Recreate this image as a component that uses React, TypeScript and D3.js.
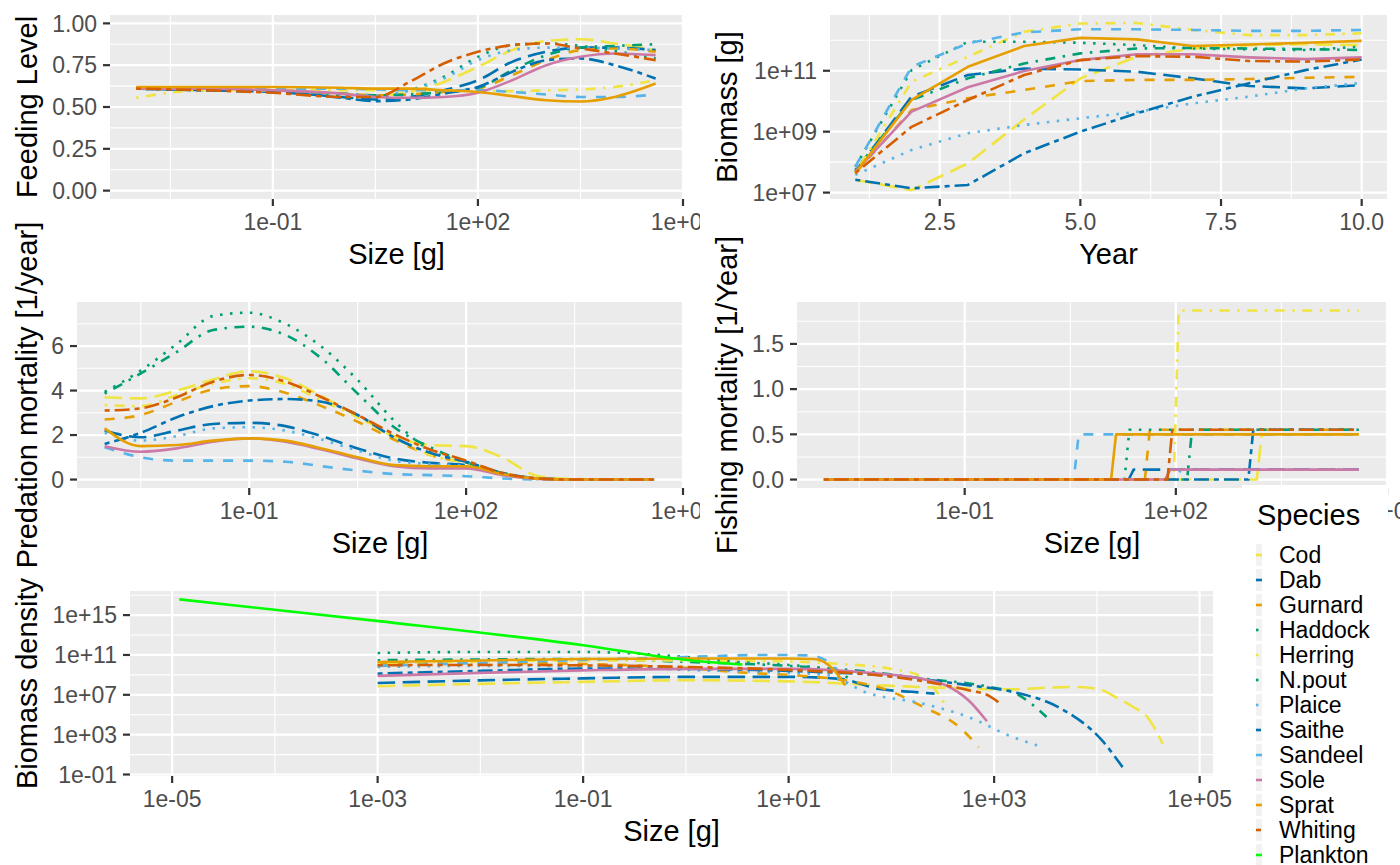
import React from "react";
import * as d3 from "d3";

// ---------------- DATA ----------------
const speciesNames = ["Cod", "Dab", "Gurnard", "Haddock", "Herring", "N.pout", "Plaice", "Saithe", "Sandeel", "Sole", "Sprat", "Whiting"];
const legendNames = [...speciesNames, "Plankton"];

// Feeding level vs log10(size)
const flSizeLog = [-3, -2, -1, 0, 0.5, 1, 1.5, 2, 2.5, 3, 3.5, 4, 4.6];
const feedingLevel: Record<string, number[]> = {
  Cod: [0.61, 0.61, 0.6, 0.58, 0.57, 0.59, 0.65, 0.74, 0.84, 0.895, 0.905, 0.88, 0.84],
  Dab: [0.61, 0.6, 0.59, 0.56, 0.545, 0.56, 0.6, 0.66, 0.77, 0.83, 0.855, 0.855, 0.84],
  Gurnard: [0.61, 0.61, 0.6, 0.58, 0.57, 0.575, 0.59, 0.61, 0.69, 0.78, 0.84, 0.85, 0.83],
  Haddock: [0.61, 0.61, 0.6, 0.58, 0.57, 0.575, 0.59, 0.615, 0.72, 0.81, 0.855, 0.865, 0.875],
  Herring: [0.555, 0.6, 0.6, 0.6, 0.6, 0.6, 0.6, 0.595, 0.595, 0.6, 0.605, 0.62, 0.66],
  "N.pout": [0.61, 0.6, 0.59, 0.57, 0.56, 0.6, 0.68, 0.8, 0.87, 0.88, 0.865, 0.835, 0.79],
  Plaice: [0.61, 0.61, 0.6, 0.58, 0.57, 0.6, 0.67, 0.78, 0.84, 0.855, 0.855, 0.85, 0.84],
  Saithe: [0.61, 0.6, 0.59, 0.555, 0.535, 0.545, 0.58, 0.62, 0.71, 0.78, 0.79, 0.75, 0.67],
  Sandeel: [0.61, 0.61, 0.61, 0.61, 0.605, 0.6, 0.6, 0.6, 0.59, 0.575, 0.56, 0.56, 0.575],
  Sole: [0.61, 0.61, 0.6, 0.58, 0.56, 0.555, 0.56, 0.585, 0.66, 0.75, 0.8, 0.82, 0.81],
  Sprat: [0.62, 0.62, 0.62, 0.615, 0.61, 0.61, 0.6, 0.59, 0.565, 0.54, 0.533, 0.56, 0.64],
  Whiting: [0.61, 0.6, 0.585, 0.56, 0.56, 0.65, 0.76, 0.83, 0.87, 0.88, 0.85, 0.82, 0.78],
};

// Biomass (log10 g) vs year
const years = [1, 2, 3, 4, 5, 6, 7, 8, 9, 10];
const biomassLog10: Record<string, number[]> = {
  Cod: [7.42, 7.08, 7.96, 9.4, 10.75, 11.46, 11.73, 11.84, 11.87, 11.84],
  Dab: [7.69, 10.15, 10.86, 11.07, 11.04, 10.97, 10.75, 10.5, 10.42, 10.53],
  Gurnard: [7.64, 9.71, 10.1, 10.37, 10.66, 10.7, 10.7, 10.73, 10.77, 10.8],
  Haddock: [7.74, 10.04, 10.75, 11.24, 11.57, 11.73, 11.75, 11.73, 11.71, 11.68],
  Herring: [7.64, 10.64, 11.46, 12.28, 12.55, 12.57, 12.34, 12.17, 12.17, 12.23],
  "N.pout": [7.85, 11.02, 11.95, 11.95, 11.92, 11.84, 11.73, 11.7, 11.68, 11.79],
  Plaice: [7.58, 8.4, 8.95, 9.22, 9.44, 9.65, 9.93, 10.15, 10.42, 10.6],
  Saithe: [7.42, 7.14, 7.25, 8.29, 9.0, 9.6, 10.15, 10.59, 11.02, 11.37],
  Sandeel: [7.85, 11.13, 11.9, 12.26, 12.36, 12.36, 12.34, 12.31, 12.31, 12.34],
  Sole: [7.69, 9.66, 10.46, 10.99, 11.35, 11.54, 11.54, 11.44, 11.38, 11.44],
  Sprat: [7.64, 10.04, 11.13, 11.81, 12.08, 12.03, 11.81, 11.86, 11.92, 11.98],
  Whiting: [7.64, 9.16, 10.04, 10.86, 11.35, 11.48, 11.46, 11.32, 11.3, 11.37],
};

// Predation mortality vs log10(size)
const pmSizeLog = [-3, -2.5, -2, -1.5, -1, -0.5, 0, 0.5, 1, 1.5, 2, 2.5, 3, 3.5, 4, 4.6];
const predationMort: Record<string, number[]> = {
  Cod: [3.7, 3.65, 4.0, 4.5, 4.87, 4.55, 3.75, 2.85, 1.95, 1.55, 1.5, 1.0, 0.15, 0.02, 0, 0],
  Dab: [2.2, 1.9, 2.2, 2.5, 2.55, 2.4, 1.95, 1.4, 0.95, 0.75, 0.65, 0.25, 0.04, 0, 0, 0],
  Gurnard: [2.7, 2.9, 3.5, 4.05, 4.2, 3.9, 3.3, 2.6, 1.8, 1.1, 0.75, 0.3, 0.05, 0, 0, 0],
  Haddock: [3.86, 4.77, 5.74, 6.72, 6.87, 6.5, 5.44, 3.86, 2.36, 1.46, 0.78, 0.29, 0.03, 0, 0, 0],
  Herring: [3.35, 3.3, 3.8, 4.3, 4.55, 4.3, 3.55, 2.8, 1.9, 1.1, 0.75, 0.3, 0.05, 0, 0, 0],
  "N.pout": [3.94, 4.9, 6.1, 7.35, 7.5, 7.0, 5.97, 4.47, 2.66, 1.31, 0.78, 0.26, 0.03, 0, 0, 0],
  Plaice: [2.1, 1.75, 1.95, 2.3, 2.35, 2.2, 1.8, 1.3, 0.85, 0.7, 0.6, 0.25, 0.04, 0, 0, 0],
  Saithe: [1.6, 2.1, 2.8, 3.3, 3.55, 3.62, 3.5, 2.9, 1.9, 1.2, 0.8, 0.3, 0.05, 0, 0, 0],
  Sandeel: [1.45, 1.0, 0.85, 0.85, 0.85, 0.8, 0.6, 0.4, 0.25, 0.2, 0.15, 0.05, 0, 0, 0, 0],
  Sole: [1.5, 1.25, 1.4, 1.7, 1.85, 1.7, 1.35, 0.95, 0.6, 0.5, 0.5, 0.2, 0.03, 0, 0, 0],
  Sprat: [2.3, 1.5, 1.55, 1.75, 1.85, 1.75, 1.4, 1.0, 0.65, 0.6, 0.6, 0.25, 0.04, 0, 0, 0],
  Whiting: [3.1, 3.2, 3.7, 4.4, 4.7, 4.4, 3.7, 2.9, 2.05, 1.35, 0.85, 0.3, 0.05, 0, 0, 0],
};

// Fishing mortality: knife-edge size (log10 g) and level (1/year)
const fmSizeRangeLog = [-3, 4.6];
const fmKnifeEdgeLog: Record<string, number> = {
  Cod: 3.15, Dab: 1.33, Gurnard: 1.56, Haddock: 2.16, Herring: 1.97, "N.pout": 1.27,
  Plaice: 2.0, Saithe: 3.03, Sandeel: 0.55, Sole: 1.85, Sprat: 1.08, Whiting: 1.88,
};
const fmLevel: Record<string, number> = {
  Cod: 0.5, Dab: 0.11, Gurnard: 0.55, Haddock: 0.55, Herring: 1.87, "N.pout": 0.55,
  Plaice: 0.11, Saithe: 0.55, Sandeel: 0.5, Sole: 0.11, Sprat: 0.5, Whiting: 0.55,
};

// Biomass density: [log10 size, log10 density]
const biomassDensityLog: Record<string, number[][]> = {
  Cod: [[-3, 7.86], [-2, 8.1], [-1, 8.3], [0, 8.46], [1, 8.35], [2, 7.9], [2.5, 7.7], [3.18, 7.55], [3.6, 7.75], [3.83, 7.79], [4.05, 7.45], [4.18, 6.78], [4.35, 5.8], [4.49, 4.77], [4.64, 2.09]],
  Dab: [[-3, 8.19], [-2, 8.45], [-1, 8.65], [0, 8.8], [1, 8.8], [1.5, 8.6], [1.87, 7.6], [2.2, 7.3], [2.42, 7.12]],
  Gurnard: [[-3, 10.1], [-2, 10.2], [-1, 10.1], [0, 9.7], [0.6, 9.2], [1, 9.0], [1.87, 7.79], [2.31, 5.78], [2.66, 3.77], [2.85, 1.75]],
  Haddock: [[-3, 10.47], [-2, 10.55], [-1, 10.6], [0, 10.3], [1, 9.9], [1.8, 9.3], [2.31, 8.63], [2.96, 7.79], [3.2, 7.2], [3.36, 6.11], [3.51, 4.77]],
  Herring: [[-3, 10.15], [-2, 10.35], [-1, 10.45], [0, 10.45], [1, 10.35], [1.5, 10.1], [2, 9.6], [2.3, 8.8], [2.52, 6.1]],
  "N.pout": [[-3, 11.2], [-2, 11.3], [-1, 11.3], [-0.5, 11.15], [0, 10.8], [0.5, 10.3], [1, 10.0], [1.4, 9.5], [1.6, 8.6]],
  Plaice: [[-3, 9.8], [-2, 9.9], [-1, 9.9], [0, 9.5], [1, 9.2], [1.4, 8.96], [1.74, 7.29], [2.31, 6.11], [2.75, 4.77], [3.18, 2.76], [3.42, 1.92]],
  Saithe: [[-3, 9.13], [-2, 9.4], [-1, 9.63], [0, 9.6], [1, 9.4], [1.5, 9.2], [2, 8.9], [2.75, 7.96], [3.18, 7.29], [3.62, 5.78], [4.05, 2.42], [4.25, -0.26]],
  Sandeel: [[-3, 9.9], [-2, 10.2], [-1, 10.5], [0, 10.8], [0.8, 11.0], [1.2, 10.95], [1.4, 10.2], [1.56, 8.0]],
  Sole: [[-3, 8.9], [-2, 9.2], [-1, 9.45], [0, 9.6], [1, 9.6], [1.87, 9.13], [2.3, 8.6], [2.53, 7.96], [2.75, 6.45], [2.93, 4.34]],
  Sprat: [[-3, 10.3], [-2, 10.45], [-1, 10.6], [0, 10.65], [1, 10.65], [1.25, 10.6], [1.44, 9.5], [1.55, 7.96]],
  Whiting: [[-3, 9.97], [-2, 10.0], [-1, 9.95], [0, 9.8], [1, 9.5], [1.87, 8.96], [2.4, 8.2], [2.75, 7.46], [2.95, 6.9], [3.08, 5.95]],
  Plankton: [[-4.93, 16.58], [-2.99, 14.4], [-1, 11.98], [0.03, 10.47], [0.55, 10.04]],
};

// Tick labels
const sizeTicks = [1e-1, 1e2, 1e5];
const sizeTickLabels = ["1e-01", "1e+02", "1e+05"];
const flTicks = [0, 0.25, 0.5, 0.75, 1];
const flTickLabels = ["0.00", "0.25", "0.50", "0.75", "1.00"];
const bmTicks = [1e7, 1e9, 1e11];
const bmTickLabels = ["1e+07", "1e+09", "1e+11"];
const yearTicks = [2.5, 5, 7.5, 10];
const yearTickLabels = ["2.5", "5.0", "7.5", "10.0"];
const pmTicks = [0, 2, 4, 6];
const pmTickLabels = ["0", "2", "4", "6"];
const fmTicks = [0, 0.5, 1, 1.5];
const fmTickLabels = ["0.0", "0.5", "1.0", "1.5"];
const bdXTicks = [1e-5, 1e-3, 1e-1, 1e1, 1e3, 1e5];
const bdXTickLabels = ["1e-05", "1e-03", "1e-01", "1e+01", "1e+03", "1e+05"];
const bdYTicks = [1e-1, 1e3, 1e7, 1e11, 1e15];
const bdYTickLabels = ["1e-01", "1e+03", "1e+07", "1e+11", "1e+15"];

// ---------------- STYLE ----------------
const speciesColour: Record<string, string> = {
  Cod: "#F0E442", Dab: "#0072B2", Gurnard: "#E69F00", Haddock: "#009E73", Herring: "#F0E442",
  "N.pout": "#009E73", Plaice: "#56B4E9", Saithe: "#0072B2", Sandeel: "#56B4E9", Sole: "#CC79A7",
  Sprat: "#E69F00", Whiting: "#D55E00", Plankton: "#00FF00",
};
const speciesLinetype: Record<string, string> = {
  Cod: "longdash", Dab: "longdash", Gurnard: "dashed", Haddock: "dotdash", Herring: "dotdash",
  "N.pout": "dotted", Plaice: "dotted", Saithe: "twodash", Sandeel: "dashed", Sole: "solid",
  Sprat: "solid", Whiting: "twodash", Plankton: "solid",
};
const dashUnit = 2.5;
const dashPatterns: Record<string, number[] | null> = {
  solid: null, dashed: [4, 4], dotted: [1, 3], dotdash: [1, 3, 4, 3], longdash: [7, 3], twodash: [2, 2, 6, 2],
};
const dashFor = (sp: string) => {
  const p = dashPatterns[speciesLinetype[sp]];
  return p ? p.map((v) => v * dashUnit).join(",") : undefined;
};

const FONT = "'Liberation Sans', Arial, Helvetica, sans-serif";
const LW = 2.6;
const TICK_FS = 23;
const TITLE_FS = 29;

type Box = { l: number; r: number; t: number; b: number };
const boxFL: Box = { l: 110, r: 683, t: 15, b: 199 };
const boxBM: Box = { l: 830, r: 1387, t: 15, b: 199 };
const boxPM: Box = { l: 77, r: 683, t: 302, b: 488 };
const boxFM: Box = { l: 797, r: 1387, t: 302, b: 488 };
const boxBD: Box = { l: 130, r: 1213, t: 591, b: 776 };

const sizeDomain = [Math.pow(10, -3.3825), 1e5];

function Panel(props: {
  box: Box; x: any; y: any;
  xMajor: number[]; xMinor: number[]; yMajor: number[]; yMinor: number[];
  xLabels: string[]; yLabels: string[]; xTitle: string; yTitle: string; yTitleX: number;
  children?: any;
}) {
  const { box, x, y, xMajor, xMinor, yMajor, yMinor, xLabels, yLabels, xTitle, yTitle, yTitleX } = props;
  const { l, r, t, b } = box;
  return (
    <g>
      <rect x={l} y={t} width={r - l} height={b - t} fill="#EBEBEB" />
      {xMinor.map((v, i) => (
        <line key={"xm" + i} x1={x(v)} x2={x(v)} y1={t} y2={b} stroke="#fff" strokeWidth={1.1} />
      ))}
      {yMinor.map((v, i) => (
        <line key={"ym" + i} x1={l} x2={r} y1={y(v)} y2={y(v)} stroke="#fff" strokeWidth={1.1} />
      ))}
      {xMajor.map((v, i) => (
        <line key={"xM" + i} x1={x(v)} x2={x(v)} y1={t} y2={b} stroke="#fff" strokeWidth={2.2} />
      ))}
      {yMajor.map((v, i) => (
        <line key={"yM" + i} x1={l} x2={r} y1={y(v)} y2={y(v)} stroke="#fff" strokeWidth={2.2} />
      ))}
      {props.children}
      {xMajor.map((v, i) => (
        <g key={"xt" + i}>
          <line x1={x(v)} x2={x(v)} y1={b} y2={b + 7} stroke="#333333" strokeWidth={2.2} />
          <text x={x(v)} y={b + 31} textAnchor="middle" fontSize={TICK_FS} fill="#4D4D4D">{xLabels[i]}</text>
        </g>
      ))}
      {yMajor.map((v, i) => (
        <g key={"yt" + i}>
          <line x1={l - 7} x2={l} y1={y(v)} y2={y(v)} stroke="#333333" strokeWidth={2.2} />
          <text x={l - 13} y={y(v)} dy="0.36em" textAnchor="end" fontSize={TICK_FS} fill="#4D4D4D">{yLabels[i]}</text>
        </g>
      ))}
      <text x={(l + r) / 2} y={b + 65} textAnchor="middle" fontSize={TITLE_FS} fill="#000">{xTitle}</text>
      <text transform={`translate(${yTitleX},${(t + b) / 2}) rotate(-90)`} textAnchor="middle" fontSize={TITLE_FS} fill="#000">{yTitle}</text>
    </g>
  );
}

function Series({ sp, pts, x, y, curve }: { sp: string; pts: number[][]; x: any; y: any; curve: any }) {
  const gen = d3.line<number[]>().x((d) => x(d[0])).y((d) => y(d[1])).curve(curve);
  return (
    <path d={gen(pts) || ""} fill="none" stroke={speciesColour[sp]} strokeWidth={LW}
      strokeDasharray={dashFor(sp)} strokeLinecap="butt" strokeLinejoin="round" />
  );
}

export default function App() {
  // Scales
  const xFL = d3.scaleLog().domain(sizeDomain).range([boxFL.l, boxFL.r]);
  const yFL = d3.scaleLinear().domain([-0.05, 1.05]).range([boxFL.b, boxFL.t]);
  const xBM = d3.scaleLinear().domain([0.55, 10.45]).range([boxBM.l, boxBM.r]);
  const yBM = d3.scaleLog().domain([Math.pow(10, 6.79), Math.pow(10, 12.83)]).range([boxBM.b, boxBM.t]);
  const xPM = d3.scaleLog().domain(sizeDomain).range([boxPM.l, boxPM.r]);
  const yPM = d3.scaleLinear().domain([-0.38, 7.98]).range([boxPM.b, boxPM.t]);
  const xFM = d3.scaleLog().domain(sizeDomain).range([boxFM.l, boxFM.r]);
  const yFM = d3.scaleLinear().domain([-0.0935, 1.9635]).range([boxFM.b, boxFM.t]);
  const xBD = d3.scaleLog().domain([Math.pow(10, -5.41), Math.pow(10, 5.13)]).range([boxBD.l, boxBD.r]);
  const yBD = d3.scaleLog().domain([Math.pow(10, -1.15), Math.pow(10, 17.42)]).range([boxBD.b, boxBD.t]);

  const sizeMinor = [Math.pow(10, -2.5), Math.pow(10, 0.5), Math.pow(10, 3.5)];

  const legendTop = 555;
  const legendStep = 25;

  return (
    <svg width={1400} height={865} style={{ position: "absolute", left: 0, top: 0, display: "block", background: "#fff" }}
      fontFamily={FONT}>
      <defs>
        <clipPath id="leftcol"><rect x={0} y={0} width={700} height={865} /></clipPath>
      </defs>
      <rect x={0} y={0} width={1400} height={865} fill="#fff" />

      <g clipPath="url(#leftcol)">
        {/* Feeding level */}
        <Panel box={boxFL} x={xFL} y={yFL} xMajor={sizeTicks} xMinor={sizeMinor}
          yMajor={flTicks} yMinor={[0.125, 0.375, 0.625, 0.875]}
          xLabels={sizeTickLabels} yLabels={flTickLabels} xTitle="Size [g]" yTitle="Feeding Level" yTitleX={37}>
          {speciesNames.map((sp) => (
            <Series key={sp} sp={sp} x={xFL} y={yFL} curve={d3.curveMonotoneX}
              pts={flSizeLog.map((s, i) => [Math.pow(10, s), feedingLevel[sp][i]])} />
          ))}
        </Panel>

        {/* Predation mortality */}
        <Panel box={boxPM} x={xPM} y={yPM} xMajor={sizeTicks} xMinor={sizeMinor}
          yMajor={pmTicks} yMinor={[1, 3, 5, 7]}
          xLabels={sizeTickLabels} yLabels={pmTickLabels} xTitle="Size [g]" yTitle="Predation mortality [1/year]" yTitleX={37}>
          {speciesNames.map((sp) => (
            <Series key={sp} sp={sp} x={xPM} y={yPM} curve={d3.curveMonotoneX}
              pts={pmSizeLog.map((s, i) => [Math.pow(10, s), predationMort[sp][i]])} />
          ))}
        </Panel>
      </g>

      {/* Biomass vs year */}
      <Panel box={boxBM} x={xBM} y={yBM} xMajor={yearTicks} xMinor={[1.25, 3.75, 6.25, 8.75]}
        yMajor={bmTicks} yMinor={[1e8, 1e10, 1e12]}
        xLabels={yearTickLabels} yLabels={bmTickLabels} xTitle="Year" yTitle="Biomass [g]" yTitleX={737}>
        {speciesNames.map((sp) => (
          <Series key={sp} sp={sp} x={xBM} y={yBM} curve={d3.curveLinear}
            pts={years.map((yr, i) => [yr, Math.pow(10, biomassLog10[sp][i])])} />
        ))}
      </Panel>

      {/* Fishing mortality */}
      <Panel box={boxFM} x={xFM} y={yFM} xMajor={sizeTicks} xMinor={sizeMinor}
        yMajor={fmTicks} yMinor={[0.25, 0.75, 1.25, 1.75]}
        xLabels={sizeTickLabels} yLabels={fmTickLabels} xTitle="Size [g]" yTitle="Fishing mortality [1/Year]" yTitleX={737}>
        {speciesNames.map((sp) => {
          const e = fmKnifeEdgeLog[sp];
          const f = fmLevel[sp];
          const pts = [
            [Math.pow(10, fmSizeRangeLog[0]), 0],
            [Math.pow(10, e), 0],
            [Math.pow(10, e + 0.07), f],
            [Math.pow(10, fmSizeRangeLog[1]), f],
          ];
          return <Series key={sp} sp={sp} x={xFM} y={yFM} curve={d3.curveLinear} pts={pts} />;
        })}
      </Panel>

      {/* Biomass density */}
      <Panel box={boxBD} x={xBD} y={yBD} xMajor={bdXTicks} xMinor={[1e-4, 1e-2, 1, 1e2, 1e4]}
        yMajor={bdYTicks} yMinor={[1e1, 1e5, 1e9, 1e13, 1e17]}
        xLabels={bdXTickLabels} yLabels={bdYTickLabels} xTitle="Size [g]" yTitle="Biomass density" yTitleX={37}>
        {legendNames.map((sp) => (
          <Series key={sp} sp={sp} x={xBD} y={yBD} curve={d3.curveMonotoneX}
            pts={biomassDensityLog[sp].map((p) => [Math.pow(10, p[0]), Math.pow(10, p[1])])} />
        ))}
      </Panel>

      {/* Legend */}
      <g>
        <rect x={1242} y={485} width={146} height={380} fill="#fff" />
        <text x={1257} y={525} fontSize={TITLE_FS} fill="#000">Species</text>
        {legendNames.map((sp, i) => {
          const cy = legendTop + i * legendStep;
          return (
            <g key={sp}>
              <rect x={1256} y={cy - 11} width={6} height={22} fill="#F2F2F2" />
              <line x1={1256} x2={1262} y1={cy} y2={cy} stroke={speciesColour[sp]} strokeWidth={LW}
                strokeDasharray={dashFor(sp)} />
              <text x={1279} y={cy} dy="0.36em" fontSize={TICK_FS} fill="#000">{sp}</text>
            </g>
          );
        })}
      </g>
    </svg>
  );
}
